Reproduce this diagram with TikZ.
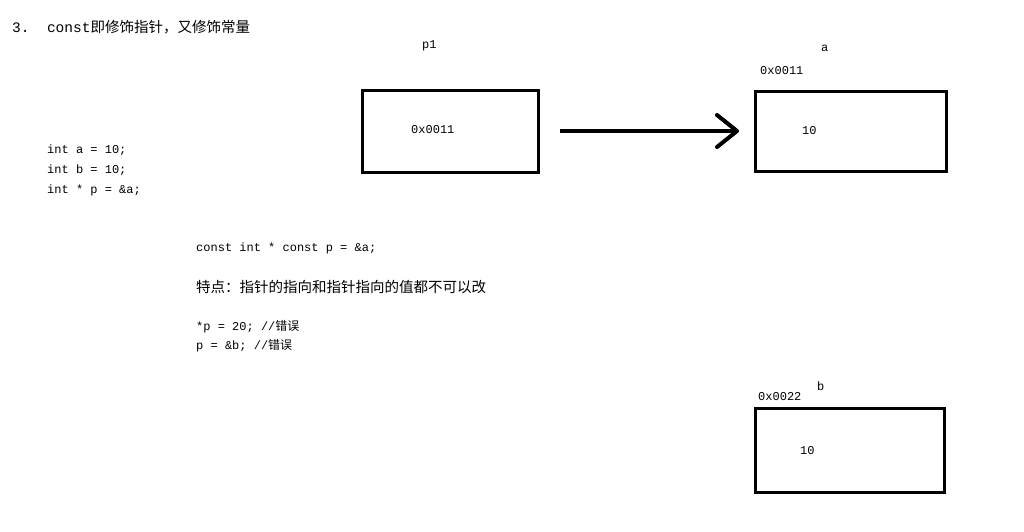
\documentclass[tikz,border=0pt]{standalone}
\usepackage{fontspec}
\setmonofont{Liberation Mono}
\newfontfamily\cjk{Noto Sans CJK SC}
\begin{document}
\begin{tikzpicture}[x=1pt,y=-1pt,
  box/.style={draw,line width=3pt},
  code/.style={anchor=west,inner sep=0pt,font=\ttfamily\fontsize{12}{14}\selectfont},
  zh/.style={anchor=west,inner sep=0pt,font=\cjk\fontsize{14.5}{16}\selectfont}]
\useasboundingbox (0,0) rectangle (1024,531);
\node[zh] (title) at (12,27) {\ttfamily 3.\ \ const\cjk 即修饰指针，又修饰常量};
\node[code] (p1) at (422,46) {p1};
\node[code] (la) at (821,48) {a};
\node[code] (aa) at (760,71) {0x0011};
\draw[box] (362,90) rectangle (538,172);
\node[code] (pv) at (411,130) {0x0011};
\draw[box] (755,91) rectangle (946,171);
\node[code] (av) at (802,131) {10};
\coordinate (s) at (560,131);
\coordinate (e) at (737,131);
\draw[line width=4pt] (s) -- (e);
\draw[line width=4pt,line cap=round,line join=round] (717,115) -- (737,131) -- (717,147);
\node[code] (c1) at (47,150) {int a = 10;};
\node[code] (c2) at (47,170) {int b = 10;};
\node[code] (c3) at (47,190) {int * p = \&a;};
\node[code] (c4) at (196,248) {const int * const p = \&a;};
\node[zh] (t1) at (196,287) {特点：指针的指向和指针指向的值都不可以改};
\node[code] (c5) at (196,327) {*p = 20; //\cjk 错误};
\node[code] (c6) at (196,346) {p = \&b;  //\cjk 错误};
\node[code] (lb) at (817,386) {b};
\node[code] (ba) at (758,397) {0x0022};
\draw[box] (755,408) rectangle (944,492);
\node[code] (bv) at (800,451) {10};
\end{tikzpicture}
\end{document}
